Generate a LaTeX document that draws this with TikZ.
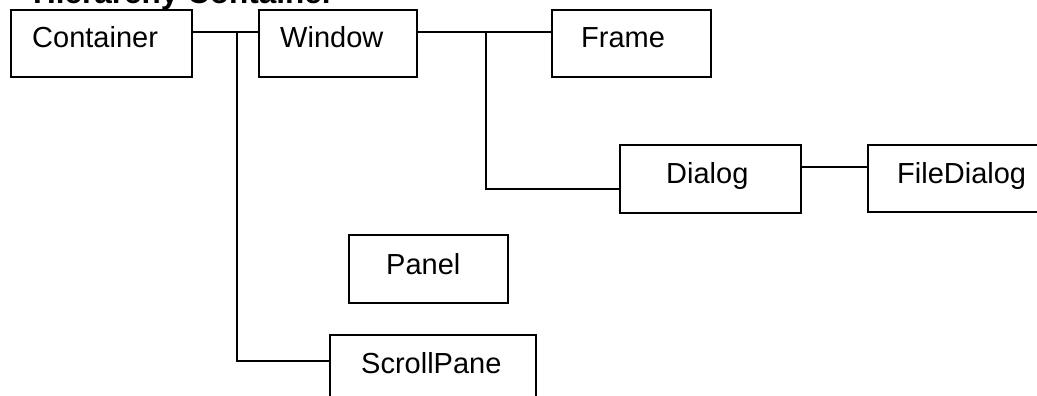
\documentclass[tikz,border=0pt]{standalone}
\usepackage{fontspec}
\setmainfont{Liberation Sans}
\usetikzlibrary{calc}
\begin{document}
\begin{tikzpicture}[x=1pt,y=-1pt,
  cls/.style={draw=black,line width=1.4pt,fill=white,anchor=north west,inner sep=0pt,outer sep=0pt},
  lbl/.style={anchor=base west,inner sep=0pt,font=\fontsize{29}{34}\selectfont},
  link/.style={draw=black,line width=1.3pt}]
\useasboundingbox (0,0) rectangle (1037,396);
\clip (0,0) rectangle (1037,396);

% heading, partly above the page edge
\node[anchor=base west,inner sep=0pt,font=\bfseries\fontsize{31.5}{36}\selectfont] (title) at (33,3.2) {Hierarchy Container};

% class boxes
\node[cls,minimum width=181pt,minimum height=67pt] (container) at (11,10) {};
\node[cls,minimum width=158pt,minimum height=67pt] (window) at (259,10) {};
\node[cls,minimum width=159pt,minimum height=67pt] (frame) at (552,10) {};
\node[cls,minimum width=181pt,minimum height=68pt] (dialog) at (620,145) {};
\node[cls,minimum width=190pt,minimum height=67pt] (filedialog) at (868,145) {};
\node[cls,minimum width=159pt,minimum height=68pt] (panel) at (349,235) {};
\node[cls,minimum width=206pt,minimum height=70pt] (scrollpane) at (330,335) {};

% class names
\node[lbl] (tcontainer) at ($(container.north west)+(21,38)$) {Container};
\node[lbl] (twindow) at ($(window.north west)+(21,38)$) {Window};
\node[lbl] (tframe) at ($(frame.north west)+(29,38)$) {Frame};
\node[lbl] (tdialog) at ($(dialog.north west)+(46,38)$) {Dialog};
\node[lbl] (tfiledialog) at ($(filedialog.north west)+(29,38)$) {FileDialog};
\node[lbl] (tpanel) at ($(panel.north west)+(37,39)$) {Panel};
\node[lbl] (tscrollpane) at ($(scrollpane.north west)+(31,38)$) {ScrollPane};

% branch points
\coordinate (j1) at (237,32);
\coordinate (j2) at (486,32);
\coordinate (sprow) at (0,361);
\coordinate (dlgrow) at (0,189);
\coordinate (fdrow) at (0,167);

% connectors
\draw[link] (container.east |- j1) -- (window.west |- j1);
\draw[link] (j1) |- (scrollpane.west |- sprow);
\draw[link] (window.east |- j2) -- (frame.west |- j2);
\draw[link] (j2) |- (dialog.west |- dlgrow);
\draw[link] (dialog.east |- fdrow) -- (filedialog.west |- fdrow);
\end{tikzpicture}
\end{document}
